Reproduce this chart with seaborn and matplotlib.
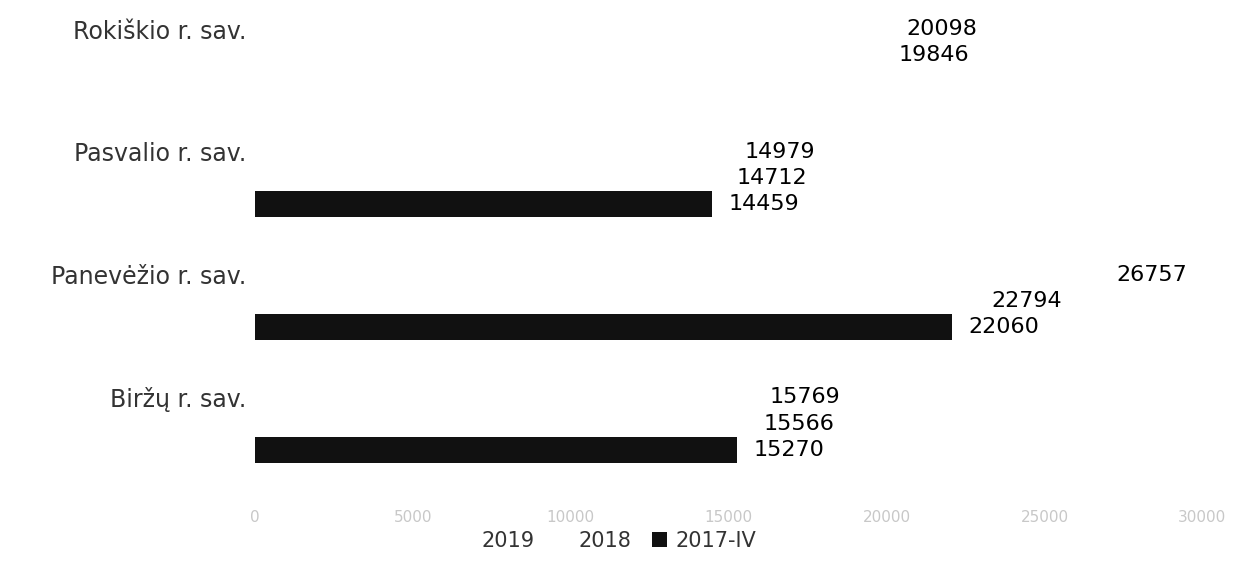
import numpy as np
import pandas as pd
import seaborn as sns
import matplotlib.pyplot as plt

# ==========================================================
# Duomenys
# ==========================================================
regions = ["Rokiškio r. sav.", "Pasvalio r. sav.", "Panevėžio r. sav.", "Biržų r. sav."]
periods = ["2019", "2018", "2017-IV"]
v2019 = [20098, 14979, 26757, 15769]
v2018 = [19846, 14712, 22794, 15566]
v2017 = [np.nan, 14459, 22060, 15270]

df = pd.DataFrame({
    "region": regions * 3,
    "period": [periods[0]] * 4 + [periods[1]] * 4 + [periods[2]] * 4,
    "value": v2019 + v2018 + v2017,
}).dropna()

# ==========================================================
# Grafikas
# ==========================================================
sns.set_style("white")
plt.rcParams["font.family"] = ["DejaVu Sans"]

fig = plt.figure(figsize=(12.37, 5.83), dpi=100)
ax = fig.add_axes([0.206, 0.168, 0.766, 0.832])

bar_w = 0.64
palette = {"2019": "#ffffff", "2018": "#ffffff", "2017-IV": "#111111"}
sns.barplot(data=df, x="value", y="region", hue="period", order=regions,
            hue_order=periods, palette=palette, orient="h", width=bar_w,
            errorbar=None, ax=ax, linewidth=0)

for cont in ax.containers:
    ax.bar_label(cont, fmt="%d", padding=12, fontsize=16, color="#000000")

ax.set_xlim(0, 30000)
ax.set_ylim(3.5, -0.45)
ax.set_xticks(np.arange(0, 30001, 5000))
ax.tick_params(axis="x", labelsize=11, labelcolor="#c8c8c8", pad=18, length=0)

# kategorijų pavadinimai ties viršutine (2019) juosta
ax.set_yticks(np.arange(len(regions)) - bar_w / 3)
ax.set_yticklabels(regions)
ax.tick_params(axis="y", labelsize=17, labelcolor="#333333", length=0, pad=6)

ax.set_xlabel("")
ax.set_ylabel("")
sns.despine(ax=ax, left=True, bottom=True)

ax.legend(loc="center", bbox_to_anchor=(0.372, -0.115), ncol=3, frameon=False,
          fontsize=15, handlelength=0.7, handleheight=0.7, columnspacing=1.0,
          handletextpad=0.4, labelcolor="#333333")

plt.savefig("out.png", dpi=100)
